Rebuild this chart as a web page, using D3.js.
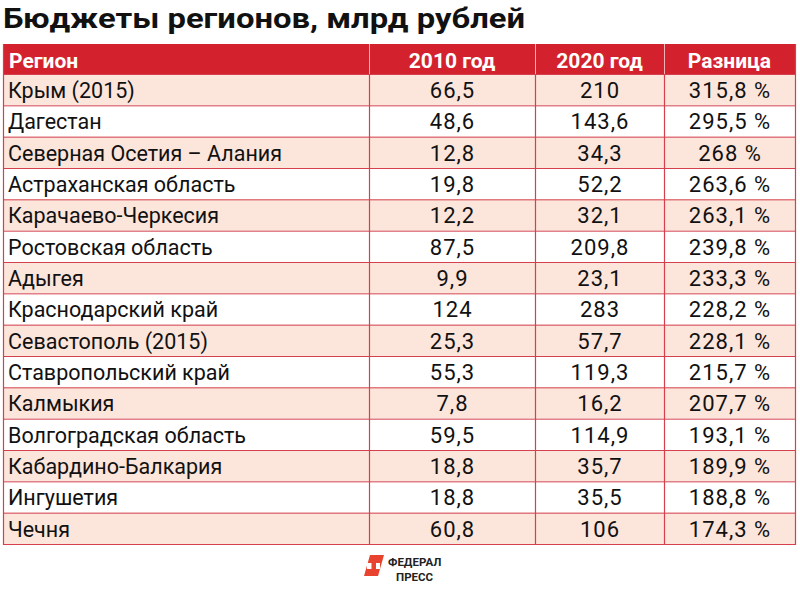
<!DOCTYPE html>
<html><head><meta charset="utf-8">
<script src="https://cdn.jsdelivr.net/npm/d3@7"></script>
<style>body{margin:0;background:#fff;font-family:Roboto,"Noto Sans",sans-serif}</style>
</head><body><svg id="c" width="800" height="590"></svg>
<script>
const title = "Бюджеты регионов, млрд рублей";
const headers = ["Регион", "2010 год", "2020 год", "Разница"];
const regions = ["Крым (2015)","Дагестан","Северная Осетия – Алания","Астраханская область","Карачаево-Черкесия","Ростовская область","Адыгея","Краснодарский край","Севастополь (2015)","Ставропольский край","Калмыкия","Волгоградская область","Кабардино-Балкария","Ингушетия","Чечня"];
const y2010 = ["66,5","48,6","12,8","19,8","12,2","87,5","9,9","124","25,3","55,3","7,8","59,5","18,8","18,8","60,8"];
const y2020 = ["210","143,6","34,3","52,2","32,1","209,8","23,1","283","57,7","119,3","16,2","114,9","35,7","35,5","106"];
const diff = ["315,8 %","295,5 %","268 %","263,6 %","263,1 %","239,8 %","233,3 %","228,2 %","228,1 %","215,7 %","207,7 %","193,1 %","189,9 %","188,8 %","174,3 %"];

const svg = d3.select("#c");
const colEdges = [3, 369, 535, 664, 795];
const headTop = 44, headH = 30;
const rowTop = headTop + headH;
const y = d3.scaleBand().domain(d3.range(regions.length)).range([rowTop, 544]).padding(0);

svg.append("text").attr("x", 3).attr("y", 28).attr("font-size", 27).attr("font-weight", 700)
  .attr("fill", "#111").attr("textLength", 522).attr("lengthAdjust", "spacingAndGlyphs").text(title);

// header
svg.append("rect").attr("x", colEdges[0]).attr("y", headTop).attr("width", colEdges[4]-colEdges[0]).attr("height", headH).attr("fill", "#d3222e");
headers.forEach((h, i) => {
  const t = svg.append("text").attr("y", headTop + 23.5).attr("font-size", 21).attr("font-weight", 700).attr("fill", "#fff").text(h);
  if (i === 0) t.attr("x", colEdges[0] + 6);
  else t.attr("x", (colEdges[i] + colEdges[i+1]) / 2).attr("text-anchor", "middle");
});
[1,2,3].forEach(i => svg.append("line").attr("x1", colEdges[i]+0.5).attr("x2", colEdges[i]+0.5).attr("y1", headTop).attr("y2", rowTop).attr("stroke", "#f1b3b6").attr("stroke-width", 1));

// rows
const rows = svg.selectAll("g.row").data(regions.map((r, i) => ({r, a: y2010[i], b: y2020[i], d: diff[i], i})))
  .join("g").attr("class", "row").attr("transform", d => `translate(0,${y(d.i)})`);
rows.append("rect").attr("x", colEdges[0]).attr("width", colEdges[4]-colEdges[0]).attr("height", y.bandwidth())
  .attr("fill", d => d.i % 2 === 0 ? "#fce5db" : "#ffffff");
const ty = 24;
rows.append("text").attr("x", colEdges[0] + 5).attr("y", ty).attr("font-size", 21.5).attr("fill", "#111").text(d => d.r);
const numCols = [["a", 1], ["b", 2], ["d", 3]];
numCols.forEach(([k, c]) => {
  rows.append("text").attr("x", (colEdges[c]+colEdges[c+1])/2 + 0.5).attr("y", ty).attr("text-anchor", "middle")
    .attr("font-size", 22).attr("letter-spacing", 1).attr("fill", "#111").text(d => d[k]);
});

// grid lines
const gc = "#d4404d";
d3.range(regions.length + 1).forEach(i => {
  const yy = i === regions.length ? 544 : y(i);
  svg.append("line").attr("x1", colEdges[0]).attr("x2", colEdges[4]+1).attr("y1", yy+0.5).attr("y2", yy+0.5).attr("stroke", gc).attr("stroke-width", 1);
});
colEdges.forEach((x, i) => {
  svg.append("line").attr("x1", x+0.5).attr("x2", x+0.5).attr("y1", i===0||i===4 ? headTop : rowTop).attr("y2", 545).attr("stroke", gc).attr("stroke-width", 1.2);
});

// logo
const lg = svg.append("g");
lg.append("path").attr("d", "M370,555 L384,555 L378,576 L364,576 Z").attr("fill", "#e8432e");
lg.append("rect").attr("x", 367).attr("y", 563).attr("width", 13).attr("height", 6).attr("fill", "#fff");
lg.append("rect").attr("x", 371.5).attr("y", 560).attr("width", 4.5).attr("height", 13).attr("fill", "#e8432e");
lg.append("text").attr("x", 388).attr("y", 566).attr("font-size", 11.5).attr("font-weight", 700).attr("fill", "#222").text("ФЕДЕРАЛ");
lg.append("text").attr("x", 396).attr("y", 580.5).attr("font-size", 11.5).attr("font-weight", 700).attr("fill", "#222").text("ПРЕСС");
</script></body></html>
